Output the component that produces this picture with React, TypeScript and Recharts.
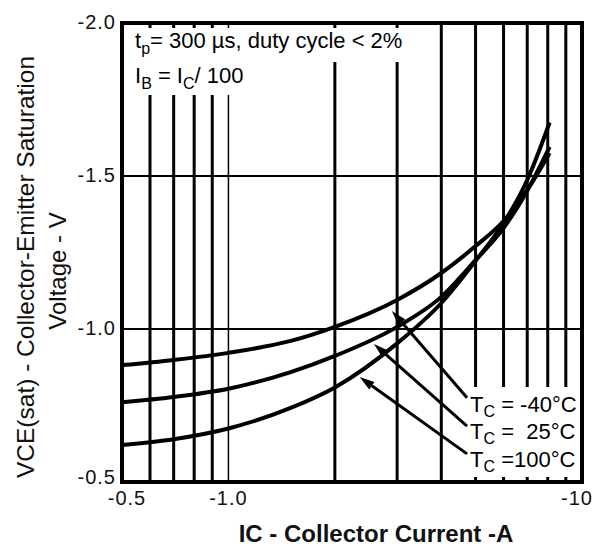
import React from 'react'
import { LineChart, Line, XAxis, YAxis, ReferenceLine, ReferenceArea } from 'recharts'

// collector current |IC| in A, log axis
const currents = [0.5, 0.7, 1.0, 1.5, 2, 3, 4, 5, 6, 7, 8.1]
// |VCE(sat)| in V for each case temperature
const vMinus40 = [0.882, 0.899, 0.922, 0.961, 1.007, 1.095, 1.183, 1.271, 1.353, 1.454, 1.575]
const v25 = [0.761, 0.778, 0.805, 0.859, 0.912, 1.007, 1.105, 1.225, 1.33, 1.452, 1.595]
const v100 = [0.621, 0.64, 0.675, 0.742, 0.809, 0.953, 1.085, 1.223, 1.346, 1.487, 1.675]

const xTicks = [0.5, 1, 10]
const xTickLabels = ['-0.5', '-1.0', '-10']
const yTicks = [0.5, 1.0, 1.5, 2.0]
const yTickLabels = ['-0.5', '-1.0', '-1.5', '-2.0']

const gridX = [0.6, 0.7, 0.8, 0.9, 1, 2, 3, 4, 5, 6, 7, 8, 9]
const gridY = [1.0, 1.5]

// arrow from curve (tip) to label (tail)
const arrows = [
  { tip: { x: 2.9, y: 1.059 }, tail: { x: 4.73, y: 0.775 } },
  { tip: { x: 2.58, y: 0.951 }, tail: { x: 4.73, y: 0.683 } },
  { tip: { x: 2.35, y: 0.843 }, tail: { x: 4.73, y: 0.592 } },
]

const data = currents.map((ic, i) => ({
  ic,
  tm40: vMinus40[i],
  t25: v25[i],
  t100: v100[i],
}))

const FONT = '"Liberation Sans", Arial, Helvetica, sans-serif'

const Arrow = (props: any) => {
  const { x1, y1, x2, y2 } = props
  const ang = Math.atan2(y1 - y2, x1 - x2)
  const len = 15
  const w = 4.5
  const bx = x1 - len * Math.cos(ang)
  const by = y1 - len * Math.sin(ang)
  const px = -Math.sin(ang) * w
  const py = Math.cos(ang) * w
  return (
    <g>
      <line x1={bx} y1={by} x2={x2} y2={y2} stroke="#000" strokeWidth={3} />
      <polygon points={`${x1},${y1} ${bx + px},${by + py} ${bx - px},${by - py}`} fill="#000" />
    </g>
  )
}

const XTick = (props: any) => {
  const { x, y, payload, index } = props
  const shift = index === 0 ? 5 : index === xTicks.length - 1 ? -5 : 0
  return (
    <text x={x + shift} y={y} dy="0.75em" textAnchor="middle" fill="#111" fontSize={20} fontFamily={FONT} letterSpacing={1}>
      {xTickLabels[xTicks.indexOf(payload.value)]}
    </text>
  )
}

const YTick = (props: any) => {
  const { x, y, payload } = props
  const shift = payload.value === 0.5 ? -5 : -1
  return (
    <text x={x} y={y + shift} dy="0.36em" textAnchor="end" fill="#111" fontSize={20} fontFamily={FONT} letterSpacing={1}>
      {yTickLabels[yTicks.indexOf(payload.value)]}
    </text>
  )
}

export default function App() {
  return (
    <div style={{ position: 'absolute', left: 0, top: 0, width: 603, height: 547, background: '#fff' }}>
      <LineChart
        width={603}
        height={547}
        data={data}
        margin={{ top: 23, right: 21, left: 0, bottom: 0 }}
      >
        <XAxis
          dataKey="ic"
          type="number"
          scale="log"
          domain={[0.5, 10]}
          allowDataOverflow
          ticks={xTicks}
          axisLine={false}
          tickLine={false}
          tickSize={0}
          tickMargin={8}
          height={65}
          interval={0}
          tick={<XTick />}
        />
        <YAxis
          type="number"
          domain={[0.5, 2]}
          ticks={yTicks}
          axisLine={false}
          tickLine={false}
          tickSize={0}
          tickMargin={6}
          width={122}
          interval={0}
          tick={<YTick />}
        />
        {gridX.map((v) => (
          <ReferenceLine key={`gx${v}`} x={v} stroke="#000" strokeWidth={v === 1 ? 1.5 : 3} />
        ))}
        {gridY.map((v) => (
          <ReferenceLine key={`gy${v}`} y={v} stroke="#000" strokeWidth={2} />
        ))}
        <ReferenceArea x1={0.5} x2={10} y1={0.5} y2={2} fill="none" stroke="#000" strokeWidth={4} />
        <Line dataKey="tm40" type="monotone" stroke="#000" strokeWidth={4} dot={false} isAnimationActive={false} />
        <Line dataKey="t25" type="monotone" stroke="#000" strokeWidth={4} dot={false} isAnimationActive={false} />
        <Line dataKey="t100" type="monotone" stroke="#000" strokeWidth={4} dot={false} isAnimationActive={false} />
        {arrows.map((a, i) => (
          <ReferenceLine key={`ar${i}`} segment={[a.tip, a.tail]} shape={Arrow} />
        ))}
      </LineChart>
      <svg
        width={603}
        height={547}
        style={{ position: 'absolute', left: 0, top: 0, pointerEvents: 'none' }}
        fontFamily={FONT}
      >
        {/* white boxes behind annotation text */}
        <rect x={125} y={28} width={280} height={34} fill="#fff" />
        <rect x={125} y={62} width={135} height={33} fill="#fff" />
        <rect x={468} y={387} width={112} height={90} fill="#fff" />

        <text x={135} y={48} fontSize={22} fill="#000">
          t<tspan fontSize={16} dy={6}>p</tspan>
          <tspan dy={-6}>= 300 µs, duty cycle &lt; 2%</tspan>
        </text>
        <text x={135} y={83} fontSize={22} fill="#000">
          I<tspan fontSize={16} dy={6}>B</tspan>
          <tspan dy={-6}> = I</tspan>
          <tspan fontSize={16} dy={6}>C</tspan>
          <tspan dy={-6}>/ 100</tspan>
        </text>

        <text x={470} y={412} fontSize={22} fill="#000" style={{ whiteSpace: 'pre' }}>
          T<tspan fontSize={16} dy={5}>C</tspan>
          <tspan dy={-5}>{' = -40°C'}</tspan>
        </text>
        <text x={470} y={439} fontSize={22} fill="#000" style={{ whiteSpace: 'pre' }}>
          T<tspan fontSize={16} dy={5}>C</tspan>
          <tspan dy={-5}>{' =  25°C'}</tspan>
        </text>
        <text x={470} y={467} fontSize={22} fill="#000" style={{ whiteSpace: 'pre' }}>
          T<tspan fontSize={16} dy={5}>C</tspan>
          <tspan dy={-5}>{' =100°C'}</tspan>
        </text>

        <text
          transform="translate(25,267) rotate(-90)"
          textAnchor="middle"
          dominantBaseline="central"
          fontSize={24.5}
          fill="#111"
        >
          VCE(sat) - Collector-Emitter Saturation
        </text>
        <text
          transform="translate(57,271) rotate(-90)"
          textAnchor="middle"
          dominantBaseline="central"
          fontSize={24}
          fill="#111"
        >
          Voltage - V
        </text>
        <text x={376} y={542} textAnchor="middle" fontSize={24} fontWeight="bold" fill="#111">
          IC - Collector Current -A
        </text>
      </svg>
    </div>
  )
}
